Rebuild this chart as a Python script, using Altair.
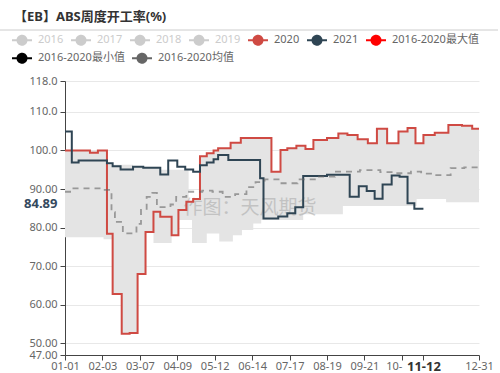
import altair as alt
import pandas as pd

TITLE = "【EB】ABS周度开工率(%)"
WATERMARK = "作图：天风期货"
FONT = "Noto Sans, Noto Sans CJK SC, sans-serif"

# legend entries and their colours (first row, second row)
SERIES_ROW1 = ["2016", "2017", "2018", "2019", "2020", "2021", "2016-2020最大值"]
COLORS_ROW1 = ["#cccccc", "#cccccc", "#cccccc", "#cccccc", "#cf4a43", "#2f4554", "#ff0000"]
SERIES_ROW2 = ["2016-2020最小值", "2016-2020均值"]
COLORS_ROW2 = ["#000000", "#666666"]
HIDDEN = ["2016", "2017", "2018", "2019"]

# x axis: day of year (2020 calendar), tick positions and labels
TICK_DAYS = [0, 33, 66, 99, 132, 165, 198, 231, 264, 297, 316, 365]
TICK_LABELS = ["01-01", "02-03", "03-07", "04-09", "05-12", "06-14",
               "07-17", "08-19", "09-21", "10-", "11-12", "12-31"]
CURRENT_DAY = 316

# weekly series, given as (day, value) change points of a step line
DAYS_2020 = [0, 22, 29, 37, 42, 50, 57, 64, 71, 78, 84, 94, 100, 107, 113, 119, 125, 131, 135, 146,
             155, 182, 190, 196, 204, 212, 219, 231, 241, 249, 258, 267, 275, 284, 294, 302, 309, 316,
             326, 338, 350, 359, 365]
VALS_2020 = [100.0, 99.4, 100.0, 78.4, 62.8, 52.5, 52.7, 68.0, 78.9, 84.1, 82.8, 78.0, 84.6, 86.7,
             87.4, 98.5, 99.3, 100.0, 100.6, 102.0, 103.2, 94.5, 100.1, 100.6, 101.2, 100.4, 102.7,
             103.2, 104.4, 104.0, 102.9, 101.9, 105.6, 101.9, 104.9, 105.8, 101.9, 104.0, 104.6,
             106.6, 106.4, 105.6, 105.6]

DAYS_2021 = [0, 6, 12, 37, 42, 49, 60, 69, 84, 91, 99, 106, 113, 119, 125, 131, 135, 144, 172, 175,
             188, 196, 203, 210, 231, 251, 259, 266, 273, 280, 288, 295, 302, 308, 316]
VALS_2021 = [104.9, 96.9, 97.4, 96.7, 95.9, 95.1, 95.8, 95.5, 93.8, 97.4, 95.8, 95.1, 94.5, 96.2,
             96.9, 97.7, 98.8, 97.5, 92.8, 82.4, 82.9, 83.7, 85.3, 93.4, 93.7, 88.0, 90.7, 89.5,
             87.5, 91.2, 93.5, 93.2, 86.3, 84.89, 84.89]

DAYS_MEAN = [0, 6, 35, 41, 44, 51, 63, 67, 72, 77, 81, 93, 98, 107, 121, 130, 139, 150, 160, 168,
             176, 190, 205, 222, 238, 260, 278, 290, 305, 314, 326, 340, 352, 365]
VALS_MEAN = [89.3, 90.2, 89.8, 84.0, 81.5, 78.5, 81.0, 84.6, 88.0, 89.0, 85.3, 86.0, 88.0, 89.3,
             89.6, 89.3, 88.0, 88.7, 90.5, 91.8, 92.5, 91.5, 92.5, 93.2, 94.5, 94.9, 94.4, 94.1,
             94.5, 94.0, 93.6, 95.4, 95.6, 95.6]

DAYS_MAX = [0, 37, 60, 84, 109, 113, 119, 125, 131, 135, 146, 155, 182, 190, 196, 204, 212, 219,
            231, 241, 249, 258, 267, 275, 284, 294, 302, 309, 316, 326, 338, 350, 359, 365]
VALS_MAX = [100.0, 96.3, 95.8, 95.0, 86.7, 87.4, 98.5, 99.3, 100.0, 100.6, 102.0, 103.2, 94.5,
            100.1, 100.6, 101.2, 100.4, 102.7, 103.2, 104.4, 104.0, 102.9, 101.9, 105.6, 101.9,
            104.9, 105.8, 101.9, 104.0, 104.6, 106.6, 106.4, 105.6, 105.6]

DAYS_MIN = [0, 34, 42, 50, 57, 64, 71, 78, 94, 100, 112, 125, 136, 148, 156, 166, 173, 210, 245,
            310, 336, 365]
VALS_MIN = [77.5, 77.0, 62.8, 52.5, 52.7, 68.0, 78.9, 76.0, 78.0, 82.0, 76.0, 78.5, 76.4, 78.0,
            79.4, 81.1, 82.0, 83.5, 85.6, 87.4, 86.6, 86.6]

Y_TICKS = [47, 50, 60, 70, 80, 90, 100, 110, 118]
LAST_2021 = VALS_2021[-1]


def step_at(days, vals, d):
    """Value of a step series (held until the next change point) on day d."""
    out = vals[0]
    for dd, vv in zip(days, vals):
        if dd <= d:
            out = vv
    return out


band_days = sorted(set(DAYS_MAX) | set(DAYS_MIN))
band_df = pd.DataFrame({
    "day": band_days,
    "hi": [step_at(DAYS_MAX, VALS_MAX, d) for d in band_days],
    "lo": [step_at(DAYS_MIN, VALS_MIN, d) for d in band_days],
})

lines_df = pd.concat([
    pd.DataFrame({"series": "2020", "day": DAYS_2020, "value": VALS_2020}),
    pd.DataFrame({"series": "2021", "day": DAYS_2021, "value": VALS_2021}),
])
mean_df = pd.DataFrame({"series": "2016-2020均值", "day": DAYS_MEAN, "value": VALS_MEAN})

x_scale = alt.Scale(domain=[0, 365], nice=False, zero=False)
y_scale = alt.Scale(domain=[47, 118], nice=False, zero=False)


def js_list(items):
    return "[" + ",".join(repr(i) if isinstance(i, str) else str(i) for i in items) + "]"


def cond(test, hit, miss):
    return {"condition": {"test": test, "value": hit}, "value": miss}


is_now = f"datum.value == {CURRENT_DAY}"
is_last = f"datum.value == {LAST_2021}"

x_axis = alt.Axis(
    values=TICK_DAYS, title=None, grid=False,
    labelExpr=f"{js_list(TICK_LABELS)}[indexof({js_list(TICK_DAYS)}, datum.value)]",
    labelOverlap=False, labelFont=FONT, labelPadding=0,
    labelColor=cond(is_now, "#333333", "#666666"),
    labelFontWeight=cond(is_now, "bold", "normal"),
    labelFontSize=cond(is_now, 13, 11),
    labelAlign=cond("datum.value == 297", "right", "center"),
    domainColor="#444444", tickColor="#444444", tickSize=5,
)

y_axis = alt.Axis(
    values=Y_TICKS + [LAST_2021], title=None, format=".4r",
    labelFont=FONT, labelPadding=3,
    labelColor=cond(is_last, "#34495e", "#666666"),
    labelFontWeight=cond(is_last, "bold", "normal"),
    labelFontSize=cond(is_last, 13, 11),
    labelOffset=cond(is_last, -5, 0),
    tickOpacity=cond(is_last, 0, 1),
    gridOpacity=cond(f"{is_last} || datum.value == 47", 0, 1),
    gridColor="#e8e8e8", domainColor="#444444", tickColor="#444444", tickSize=5,
)

# legend symbol: short line with a dot in the middle
SYMBOL = ("M-1,0L-0.45,0M0.45,0L1,0"
          "M0.45,0A0.45,0.45,0,1,1,-0.45,0A0.45,0.45,0,1,1,0.45,0Z")
ALL_SERIES = SERIES_ROW1 + SERIES_ROW2
ALL_COLORS = COLORS_ROW1 + COLORS_ROW2
symbol_color = alt.ExprRef(f"{js_list(ALL_COLORS)}[indexof({js_list(ALL_SERIES)}, datum.label)]")
label_color = alt.ExprRef(f"indexof({js_list(HIDDEN)}, datum.label) >= 0 ? '#cccccc' : '#666666'")


def make_legend(y):
    return alt.Legend(
        title=None, orient="none", legendX=-54, legendY=y, direction="horizontal",
        columnPadding=3, padding=0,
        symbolType=SYMBOL, symbolSize=400, symbolStrokeWidth=2, symbolOpacity=1,
        symbolDash=[1, 0],
        symbolFillColor=symbol_color, symbolStrokeColor=symbol_color,
        labelFont=FONT, labelFontSize=11, labelOffset=5, labelLimit=200,
        labelColor=label_color,
    )


color_row1 = alt.Color("series:N", scale=alt.Scale(domain=SERIES_ROW1, range=COLORS_ROW1),
                       legend=make_legend(-52))
color_row2 = alt.Color("series:N", scale=alt.Scale(domain=SERIES_ROW2, range=COLORS_ROW2),
                       legend=make_legend(-34))

X = alt.X("day:Q", scale=x_scale, axis=x_axis)

band = alt.Chart(band_df).mark_area(interpolate="step-after", color="#e4e4e4").encode(
    x=X,
    y=alt.Y("hi:Q", scale=y_scale, axis=y_axis),
    y2="lo:Q",
)

mark_df = pd.DataFrame({"t": [WATERMARK]})
watermark = alt.Chart(mark_df).mark_text(
    font=FONT, fontSize=19, color="#a8a8a8", opacity=0.55, align="center", baseline="middle"
).encode(
    x=alt.XDatum(163, scale=x_scale, axis=x_axis),
    y=alt.YDatum(85.2, scale=y_scale, axis=y_axis),
    text="t:N",
)

main_lines = alt.Chart(lines_df).mark_line(interpolate="step-after", strokeWidth=2).encode(
    x=X,
    y=alt.Y("value:Q", scale=y_scale, axis=y_axis),
    color=color_row1,
    detail="series:N",
)

mean_line = alt.Chart(mean_df).mark_line(
    interpolate="step-after", strokeWidth=1.8, strokeDash=[6, 5], opacity=0.6
).encode(
    x=X,
    y=alt.Y("value:Q", scale=y_scale, axis=y_axis),
    color=color_row2,
)

title_df = pd.DataFrame({"t": [TITLE]})
title = alt.Chart(title_df).mark_text(
    font=FONT, fontSize=13, fontWeight="bold", color="#333333", align="left", baseline="middle"
).encode(x=alt.value(-51), y=alt.value(-64), text="t:N")

sep_df = pd.DataFrame({"k": [0]})
separator = alt.Chart(sep_df).mark_rule(color="#cccccc", strokeWidth=1).encode(
    x=alt.value(-65), x2=alt.value(433), y=alt.value(-51)
)

chart = alt.layer(band, watermark, main_lines, mean_line, title, separator).resolve_scale(
    color="independent"
).properties(
    width=414, height=274,
    padding={"left": 65, "top": 81, "right": 21, "bottom": 18},
    autosize=alt.AutoSizeParams(type="none"),
    background="white",
).configure_view(stroke=None)

chart.save("out.html", embed_options={"renderer": "svg", "actions": False})
